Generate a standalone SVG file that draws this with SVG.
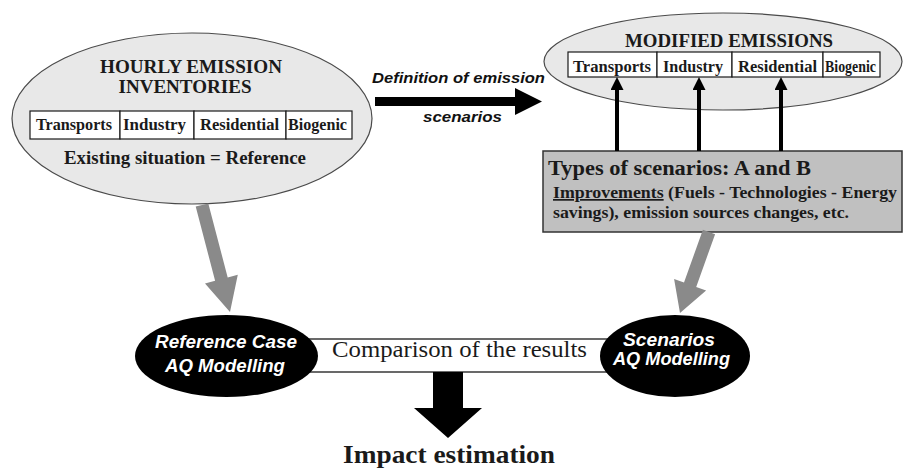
<svg xmlns="http://www.w3.org/2000/svg" width="903" height="469" viewBox="0 0 903 469">
<style>
.ell{fill:#e8e8e8;stroke:#4a4a4a;stroke-width:1.2}
.cell{fill:#ffffff;stroke:#1a1a1a;stroke-width:1.2}
.tb{font-family:"Liberation Serif","Times New Roman",serif;font-weight:bold;fill:#1a1a1a}
.tr{font-family:"Liberation Serif","Times New Roman",serif;fill:#1a1a1a}
.sb{font-family:"Liberation Sans",Arial,sans-serif;font-weight:bold;font-style:italic}
.cellt{font-size:16px}
.blk{fill:#000}
.gry{fill:#8a8a8a}
.vline{stroke:#000;stroke-width:4;fill:none;marker-end:url(#ah)}
</style>
<defs>
<marker id="ah" markerUnits="userSpaceOnUse" markerWidth="14" markerHeight="13" viewBox="0 0 14 13" refX="5" refY="6.5" orient="auto">
<path d="M0,0 L13,6.5 L0,13 z" fill="#000"/>
</marker>
</defs>
<rect width="903" height="469" fill="#ffffff"/>

<g id="inventories">
<ellipse class="ell" cx="192" cy="118.5" rx="180" ry="85.5"/>
<text class="tb" x="191" y="73" font-size="19" text-anchor="middle" textLength="182" lengthAdjust="spacingAndGlyphs">HOURLY EMISSION</text>
<text class="tb" x="185" y="93" font-size="19" text-anchor="middle" textLength="133" lengthAdjust="spacingAndGlyphs">INVENTORIES</text>
<rect class="cell" x="30" y="111" width="90" height="28"/>
<rect class="cell" x="120" y="111" width="74" height="28"/>
<rect class="cell" x="194" y="111" width="92" height="28"/>
<rect class="cell" x="286" y="111" width="66" height="28"/>
<text class="tb cellt" x="36" y="130" textLength="76" lengthAdjust="spacingAndGlyphs">Transports</text>
<text class="tb cellt" x="123" y="130" textLength="63" lengthAdjust="spacingAndGlyphs">Industry</text>
<text class="tb cellt" x="200" y="130" textLength="79" lengthAdjust="spacingAndGlyphs">Residential</text>
<text class="tb cellt" x="288" y="130" textLength="59" lengthAdjust="spacingAndGlyphs">Biogenic</text>
<text class="tb" x="185" y="164" font-size="19" text-anchor="middle" textLength="242" lengthAdjust="spacingAndGlyphs">Existing situation = Reference</text>
</g>

<g id="modified">
<ellipse class="ell" cx="723" cy="61.5" rx="179" ry="48.5"/>
<text class="tb" x="729" y="47" font-size="18.5" text-anchor="middle" textLength="208" lengthAdjust="spacingAndGlyphs">MODIFIED EMISSIONS</text>
<rect class="cell" x="568" y="52" width="89" height="25"/>
<rect class="cell" x="657" y="52" width="75" height="25"/>
<rect class="cell" x="732" y="52" width="91" height="25"/>
<rect class="cell" x="823" y="52" width="57" height="25"/>
<text class="tb cellt" x="573" y="72" textLength="78" lengthAdjust="spacingAndGlyphs">Transports</text>
<text class="tb cellt" x="663" y="72" textLength="60" lengthAdjust="spacingAndGlyphs">Industry</text>
<text class="tb cellt" x="738" y="72" textLength="79" lengthAdjust="spacingAndGlyphs">Residential</text>
<text class="tb cellt" x="825" y="72" textLength="51" lengthAdjust="spacingAndGlyphs">Biogenic</text>
</g>

<g id="scenario-types">
<rect x="543" y="151" width="359" height="81" fill="#c0c0c0" stroke="#333" stroke-width="1.5"/>
<text class="tb" x="548" y="175" font-size="20" textLength="263" lengthAdjust="spacingAndGlyphs">Types of scenarios: A and B</text>
<text class="tb" x="553" y="198" font-size="17" textLength="344" lengthAdjust="spacingAndGlyphs"><tspan text-decoration="underline">Improvements</tspan> (Fuels - Technologies - Energy</text>
<text class="tb" x="553" y="218" font-size="17" textLength="296" lengthAdjust="spacingAndGlyphs">savings), emission sources changes, etc.</text>
</g>

<g id="comparison">
<rect x="300" y="339" width="310" height="33" fill="#ffffff" stroke="#1a1a1a" stroke-width="1.3"/>
<text class="tr" x="332" y="357" font-size="23" textLength="255" lengthAdjust="spacingAndGlyphs">Comparison of the results</text>
</g>

<g id="reference-case">
<ellipse cx="226.5" cy="356" rx="91.5" ry="41" fill="#000"/>
<text class="sb" x="226" y="348" font-size="17.5" fill="#fff" text-anchor="middle" textLength="142" lengthAdjust="spacingAndGlyphs">Reference Case</text>
<text class="sb" x="225" y="372" font-size="17.5" fill="#fff" text-anchor="middle" textLength="120" lengthAdjust="spacingAndGlyphs">AQ Modelling</text>
</g>

<g id="scenarios-case">
<ellipse cx="675" cy="356" rx="75" ry="41" fill="#000"/>
<text class="sb" x="669" y="346" font-size="17.5" fill="#fff" text-anchor="middle" textLength="92" lengthAdjust="spacingAndGlyphs">Scenarios</text>
<text class="sb" x="671.5" y="365" font-size="17.5" fill="#fff" text-anchor="middle" textLength="117" lengthAdjust="spacingAndGlyphs">AQ Modelling</text>
</g>

<g id="impact">
<text class="tb" x="449" y="463" font-size="26" text-anchor="middle" textLength="212" lengthAdjust="spacingAndGlyphs">Impact estimation</text>
</g>

<g id="connectors">
<polygon class="blk" points="375,97 515,97 515,88 542,101.5 515,115 515,106 375,106"/>
<text class="sb" x="372" y="83" font-size="15" fill="#111" textLength="173" lengthAdjust="spacingAndGlyphs">Definition of emission</text>
<text class="sb" x="423" y="122" font-size="15" fill="#111" textLength="79" lengthAdjust="spacingAndGlyphs">scenarios</text>
<line class="vline" x1="617" y1="151" x2="617" y2="85"/>
<line class="vline" x1="699" y1="151" x2="699" y2="85"/>
<line class="vline" x1="781" y1="151" x2="781" y2="85"/>
<polygon class="gry" points="208.3,203.4 227.7,277.5 237.8,274.8 230,312 205,283.4 215.1,280.7 195.7,206.6"/>
<polygon class="gry" points="715.1,234.2 696.2,286.9 706.1,290.4 680,313 674.1,279 684,282.5 702.9,229.8"/>
<polygon class="blk" points="433,372 463,372 463,408 482,408 448,438 414,408 433,408"/>
</g>
</svg>
